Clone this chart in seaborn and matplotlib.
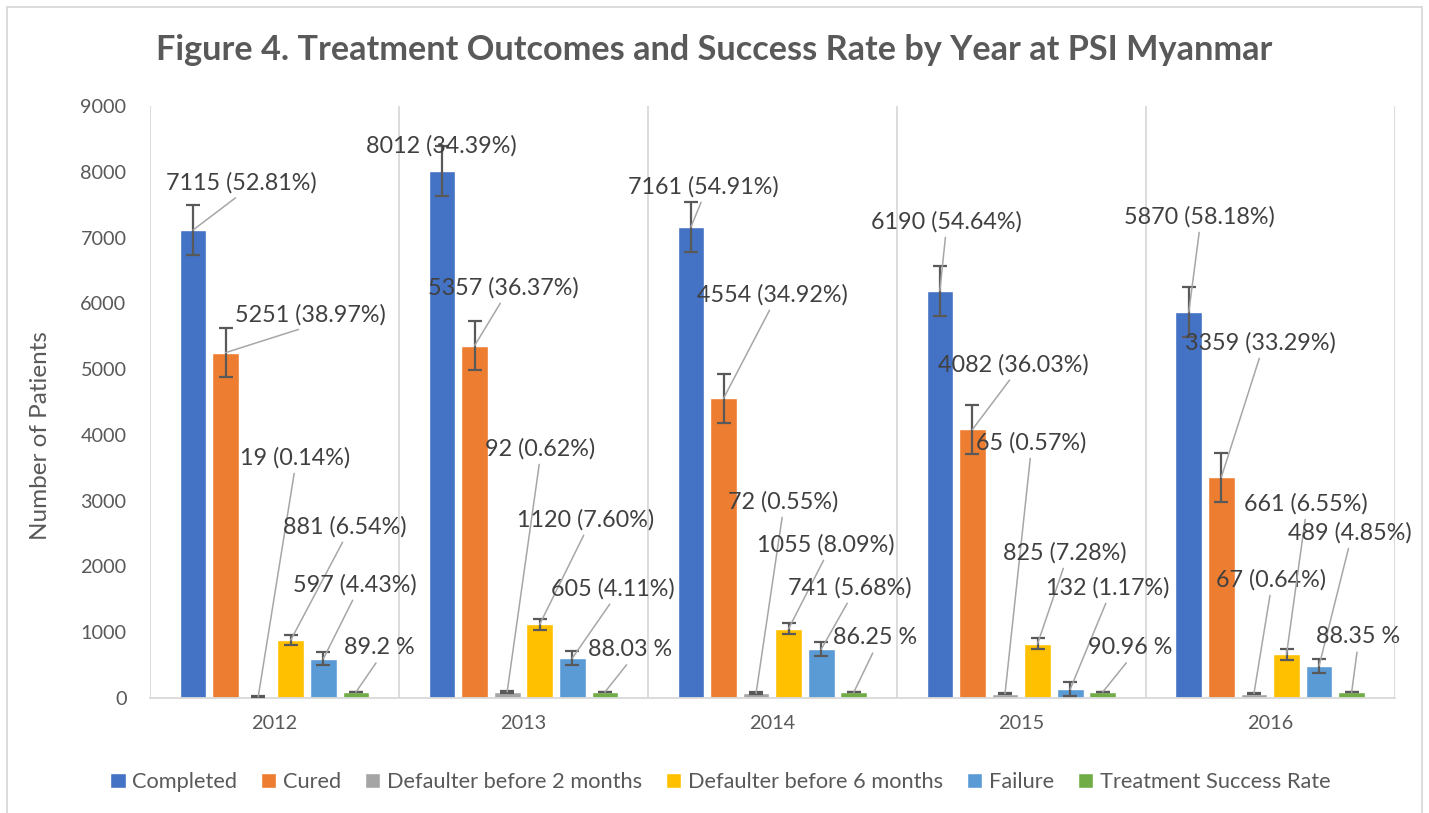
import numpy as np
import pandas as pd
import matplotlib
matplotlib.use("Agg")
import matplotlib.pyplot as plt
import seaborn as sns

# ---- data ----
years = ["2012", "2013", "2014", "2015", "2016"]
outcomes = ["Completed", "Cured", "Defaulter before 2 months",
            "Defaulter before 6 months", "Failure", "Treatment Success Rate"]

completed = [7115, 8012, 7161, 6190, 5870]
cured = [5251, 5357, 4554, 4082, 3359]
default_2m = [19, 92, 72, 65, 67]
default_6m = [881, 1120, 1055, 825, 661]
failure = [597, 605, 741, 132, 489]
success_rate = [89.2, 88.03, 86.25, 90.96, 88.35]

completed_pct = ["52.81%", "34.39%", "54.91%", "54.64%", "58.18%"]
cured_pct = ["38.97%", "36.37%", "34.92%", "36.03%", "33.29%"]
default_2m_pct = ["0.14%", "0.62%", "0.55%", "0.57%", "0.64%"]
default_6m_pct = ["6.54%", "7.60%", "8.09%", "7.28%", "6.55%"]
failure_pct = ["4.43%", "4.11%", "5.68%", "1.17%", "4.85%"]

colors = ["#4472C4", "#ED7D31", "#A5A5A5", "#FFC000", "#5B9BD5", "#70AD47"]

series = [completed, cured, default_2m, default_6m, failure, success_rate]
pcts = [completed_pct, cured_pct, default_2m_pct, default_6m_pct, failure_pct, None]

# label placement (layout only): label centre as (x in category units, y in data units)
label_pos = [
    [(-0.135, 7830), (0.669, 8392), (1.721, 7769), (2.697, 7237), (3.717, 7313)],
    [(0.143, 5823), (0.918, 6233), (1.998, 6127), (2.966, 5063), (3.962, 5397)],
    [(0.082, 3649), (1.066, 3786), (2.042, 2980), (3.038, 3877), (4.002, 1794)],
    [(0.283, 2600), (1.251, 2706), (2.215, 2326), (3.175, 2204), (4.143, 2949)],
    [(0.323, 1718), (1.359, 1657), (2.311, 1672), (3.347, 1672), (4.319, 2508)],
    [(0.420, 760), (1.428, 730), (2.412, 912), (3.436, 760), (4.351, 927)],
]

rows = []
for name, vals in zip(outcomes, series):
    for y, v in zip(years, vals):
        rows.append({"Year": y, "Outcome": name, "Patients": v})
df = pd.DataFrame(rows)

sns.set_theme(style="white")
plt.rcParams["font.family"] = ["Lato", "DejaVu Sans"]

fig = plt.figure(figsize=(14.29, 8.13), dpi=100)
ax = fig.add_axes([0.105, 0.1415, 0.871, 0.7281])

sns.barplot(data=df, x="Year", y="Patients", hue="Outcome", hue_order=outcomes,
            palette=colors, width=0.785, gap=0.18, errorbar=None,
            saturation=1, ax=ax)

handles, labels = ax.get_legend_handles_labels()
ax.legend_.remove()

# error bars: standard error of each series (as Excel does)
bar_groups = list(ax.containers)
for k, cont in enumerate(bar_groups):
    vals = np.array(series[k], dtype=float)
    se = vals.std(ddof=1) / np.sqrt(len(vals))
    xs = [p.get_x() + p.get_width() / 2 for p in cont.patches]
    hs = [p.get_height() for p in cont.patches]
    ax.errorbar(xs, hs, yerr=se, fmt="none", ecolor="#595959",
                elinewidth=1.6, capsize=4.8, capthick=1.6, zorder=3)
    for j, p in enumerate(cont.patches):
        if pcts[k] is None:
            txt = f"{series[k][j]} %"
        else:
            txt = f"{series[k][j]} ({pcts[k][j]})"
        lx, ly = label_pos[k][j]
        show_line = not (k == 0 and j == 1)
        ax.annotate(txt, xy=(xs[j], hs[j]), xytext=(lx, ly),
                    textcoords="data", ha="center", va="center",
                    fontsize=16.8, color="#404040", zorder=4,
                    arrowprops=dict(arrowstyle="-", color="#A6A6A6", lw=1.1,
                                    relpos=(0.5, 0.0), shrinkA=1, shrinkB=0)
                    if show_line else None)

ax.set_xlim(-0.5, 4.5)
ax.set_ylim(0, 9000)
ax.set_yticks(range(0, 9001, 1000))
ax.set_xticks(np.arange(-0.5, 5, 1), minor=True)
ax.grid(False)
ax.grid(which="minor", axis="x", color="#D9D9D9", linewidth=1.3)
ax.tick_params(axis="both", which="both", length=0, labelsize=14.3, labelcolor="#595959")
ax.tick_params(axis="x", pad=12)
ax.tick_params(axis="y", pad=17)
for s in ["top", "right", "left"]:
    ax.spines[s].set_visible(False)
ax.spines["bottom"].set_color("#D9D9D9")
ax.spines["bottom"].set_linewidth(1.3)
ax.set_xlabel("")
ax.set_ylabel("Number of Patients", fontsize=17.5, color="#595959")
ax.yaxis.set_label_coords(-0.0795, 0.4426)

fig.suptitle("Figure 4. Treatment Outcomes and Success Rate by Year at PSI Myanmar",
             x=0.5, y=0.938, va="center", fontsize=24.7, fontweight="bold", color="#595959")

fig.legend(handles, labels, loc="center", bbox_to_anchor=(0.504, 0.038), ncol=6,
           frameon=False, fontsize=15.7, labelcolor="#595959",
           handlelength=0.7, handleheight=0.7, handletextpad=0.3, columnspacing=1.1)

# chart-area border
fig.add_artist(plt.Rectangle((7 / 1429, -0.02), (1422 - 7) / 1429, 1 - 7 / 813 + 0.02,
                             transform=fig.transFigure, fill=False,
                             edgecolor="#D9D9D9", linewidth=1.3))

fig.savefig("out.png", dpi=100)
